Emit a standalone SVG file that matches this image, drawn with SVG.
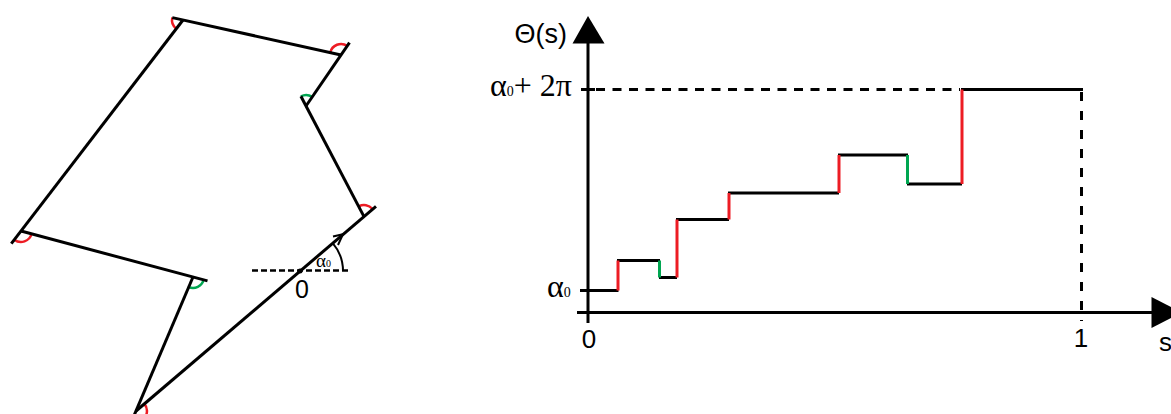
<svg xmlns="http://www.w3.org/2000/svg" width="1171" height="414" viewBox="0 0 1171 414">
<style>
.e{stroke:#000;stroke-width:3;fill:none;stroke-linecap:butt}
.r{stroke:#ed1c24;stroke-width:2.5;fill:none}
.g{stroke:#00a651;stroke-width:2.5;fill:none}
.rv{stroke:#ed1c24;stroke-width:3;fill:none}
.gv{stroke:#00a651;stroke-width:3;fill:none}
.sans{font-family:"Liberation Sans",Arial,sans-serif;fill:#000}
.serif{font-family:"Liberation Serif","Times New Roman",serif;fill:#000}
</style>
<g id="polygon">
<g id="turn-arcs">
<path class="r" d="M372.3,208.8 A11,11 0 0 0 358.9,206.3"/>
<path class="g" d="M300.9,96.3 A11,11 0 0 1 312.2,96.9"/>
<path class="r" d="M347.2,45.9 A11,11 0 0 0 330.3,52.6"/>
<path class="r" d="M172.3,17.6 A11,11 0 0 0 176.3,28.7"/>
<path class="r" d="M14.3,239.7 A11,11 0 0 0 31.6,233.8"/>
<path class="g" d="M203.6,279.8 A11,11 0 0 1 188.7,287.1"/>
<path class="r" d="M131.7,421.1 A11,11 0 0 0 144.4,403.9"/>
</g>
<g id="edges">
<line class="e" x1="136" y1="411" x2="376" y2="206.4"/>
<line class="e" x1="364" y1="216.6" x2="300.9" y2="96.3"/>
<line class="e" x1="306" y1="106" x2="349.5" y2="42.6"/>
<line class="e" x1="341" y1="55" x2="172.3" y2="17.6"/>
<line class="e" x1="183" y1="20" x2="11.3" y2="243.7"/>
<line class="e" x1="21" y1="231" x2="207.5" y2="280.9"/>
<line class="e" x1="193" y1="277" x2="133" y2="418"/>
</g>
<g id="start">
<line x1="252" y1="270.5" x2="350" y2="270.5" stroke="#000" stroke-width="2.5" stroke-dasharray="6 3"/>
<circle cx="300" cy="271" r="2.5" fill="#000"/>
<path d="M343,271 A43,43 0 0 0 332.7,243.1" fill="none" stroke="#000" stroke-width="2"/>
<path d="M333,236.5 L343,234.2 L338,245" fill="none" stroke="#000" stroke-width="2"/>
<text class="serif" x="316" y="267" font-size="19">α<tspan font-size="10">0</tspan></text>
<text class="sans" x="302" y="298" font-size="25" text-anchor="middle">0</text>
</g>
</g>
<g id="axes">
<line class="e" x1="588" y1="40" x2="588" y2="323"/>
<polygon points="588,16 572.5,43.5 604.5,43.5" fill="#000"/>
<line class="e" x1="577" y1="312.5" x2="1155" y2="312.5"/>
<polygon points="1151.5,297 1151.5,328 1182,312.5" fill="#000"/>
<line class="e" x1="581" y1="89.5" x2="595" y2="89.5"/>
<line class="e" x1="580" y1="290.5" x2="590" y2="290.5"/>
<text class="sans" x="567" y="43" font-size="27" text-anchor="end">Θ(s)</text>
<text class="serif" x="490" y="96" font-size="32">α<tspan font-size="14">0</tspan>+ 2π</text>
<text class="serif" x="547" y="297" font-size="32">α<tspan font-size="14">0</tspan></text>
<text class="sans" x="589" y="348" font-size="26" text-anchor="middle">0</text>
<text class="sans" x="1081" y="347" font-size="26" text-anchor="middle">1</text>
<text class="sans" x="1159" y="351" font-size="26">s</text>
</g>
<g id="connectors">
<line x1="596" y1="89.5" x2="960" y2="89.5" stroke="#000" stroke-width="3" stroke-dasharray="9 7.5"/>
<line x1="1081.5" y1="92" x2="1081.5" y2="321" stroke="#000" stroke-width="3" stroke-dasharray="9 10"/>
<path class="e" d="M588,290.5 H618.5 M617,260.5 H660 M659,277.5 H677 M676,219.5 H729 M728,193 H839 M838,155 H908 M907,184 H962 M961,89.5 H1083"/>
<line class="rv" x1="618" y1="290.5" x2="618" y2="260.5"/>
<line class="gv" x1="659.5" y1="260.5" x2="659.5" y2="277.5"/>
<line class="rv" x1="677" y1="277.5" x2="677" y2="219.5"/>
<line class="rv" x1="729" y1="219.5" x2="729" y2="193"/>
<line class="rv" x1="839" y1="193" x2="839" y2="155"/>
<line class="gv" x1="907.5" y1="155" x2="907.5" y2="184"/>
<line class="rv" x1="962" y1="184" x2="962" y2="89.5"/>
</g>
</svg>
